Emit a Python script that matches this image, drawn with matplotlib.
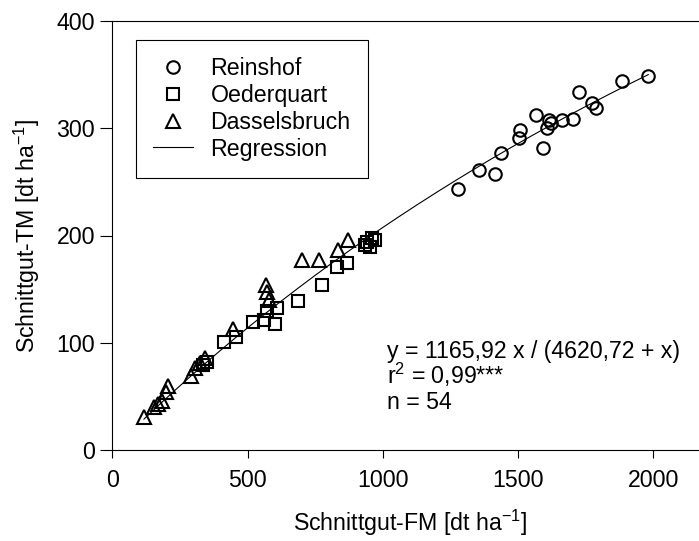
import matplotlib
matplotlib.use('Agg')
import matplotlib.pyplot as plt
import numpy as np

plt.rcParams['font.family'] = ['Liberation Sans', 'DejaVu Sans']
plt.rcParams['mathtext.fontset'] = 'custom'
plt.rcParams['mathtext.rm'] = 'Liberation Sans'
plt.rcParams['mathtext.it'] = 'Liberation Sans:italic'
plt.rcParams['mathtext.bf'] = 'Liberation Sans:bold'

# --- data ---
reinshof_fm = [1280, 1357, 1415, 1437, 1504, 1508, 1567, 1594, 1606, 1616, 1622, 1662,
               1705, 1726, 1775, 1789, 1886, 1982]
reinshof_tm = [243, 261, 257, 277, 291, 298, 312, 282, 300, 308, 305, 308,
               309, 334, 324, 319, 344, 349]

oederquart_fm = [335, 350, 413, 456, 521, 560, 571, 602, 608, 688, 776, 830,
                 868, 935, 941, 953, 959, 972]
oederquart_tm = [79, 82.5, 101, 105.6, 119.6, 121, 130, 117.5, 132, 139, 154, 171,
                 174.6, 191, 194, 189.6, 197.4, 196]

dasselsbruch_fm = [117, 154, 170, 184, 199, 206, 291, 306, 324, 343, 446, 568,
                   572, 580, 702, 764, 833, 870]
dasselsbruch_tm = [31, 40, 43, 46, 54, 60, 69, 76.5, 81, 86, 113, 154,
                   147, 140, 177, 177, 186.5, 196]

reg_a = 1165.92
reg_b = 4620.72
reg_xmin, reg_xmax = 117, 1982

x_ticks = [0, 500, 1000, 1500, 2000]
y_ticks = [0, 100, 200, 300, 400]

FS = 16.7

fig = plt.figure(figsize=(6.99, 5.41), dpi=100)
W, H = 699, 541
ax = fig.add_axes([112.3 / W, 91 / H, 594.9 / W, 429 / H])
ax.set_xlim(0, 2200)
ax.set_ylim(0, 400)

mk = dict(linestyle='none', markerfacecolor='none', markeredgecolor='black',
          markeredgewidth=1.5, clip_on=False)
h1, = ax.plot(reinshof_fm, reinshof_tm, marker='o', markersize=9.0, label='Reinshof', **mk)
h2, = ax.plot(oederquart_fm, oederquart_tm, marker='s', markersize=8.2, label='Oederquart', **mk)
h3, = ax.plot(dasselsbruch_fm, dasselsbruch_tm, marker='^', markersize=10, label='Dasselsbruch', **mk)

xr = np.linspace(reg_xmin, reg_xmax, 300)
h4, = ax.plot(xr, reg_a * xr / (reg_b + xr), color='black', linewidth=0.8, label='Regression')

ax.set_xticks(x_ticks)
ax.set_yticks(y_ticks)
ax.tick_params(axis='both', direction='out', width=0.8, labelsize=FS, colors='black')
ax.tick_params(axis='y', length=9, pad=3.5)
ax.tick_params(axis='x', length=6, pad=8)
ax.spines['right'].set_visible(False)
for s in ['left', 'bottom', 'top']:
    ax.spines[s].set_linewidth(0.8)
    ax.spines[s].set_color('black')

ax.set_xlabel('Schnittgut-FM [dt ha$^{-1}$]', fontsize=FS)
ax.set_ylabel('Schnittgut-TM [dt ha$^{-1}$]', fontsize=FS)
ax.xaxis.set_label_coords(0.5, -0.135)
ax.yaxis.set_label_coords(-0.118, 0.5)

leg = ax.legend(handles=[h1, h2, h3, h4], loc='upper left',
                bbox_to_anchor=(0.039, 0.9557), borderaxespad=0, frameon=True,
                fancybox=False, edgecolor='black', framealpha=1, handlelength=1.72,
                handletextpad=0.76, borderpad=0.75, labelspacing=0.16, fontsize=FS,
                numpoints=1)
leg.get_frame().set_linewidth(0.8)

ax.text(1016, 85.8, 'y = 1165,92 x / (4620,72 + x)', fontsize=FS, va='baseline', ha='left')
ax.text(1016, 61.5, 'r$^2$ = 0,99***', fontsize=FS, va='baseline', ha='left')
ax.text(1016, 38.2, 'n = 54', fontsize=FS, va='baseline', ha='left')

fig.savefig('out.png', dpi=100)
